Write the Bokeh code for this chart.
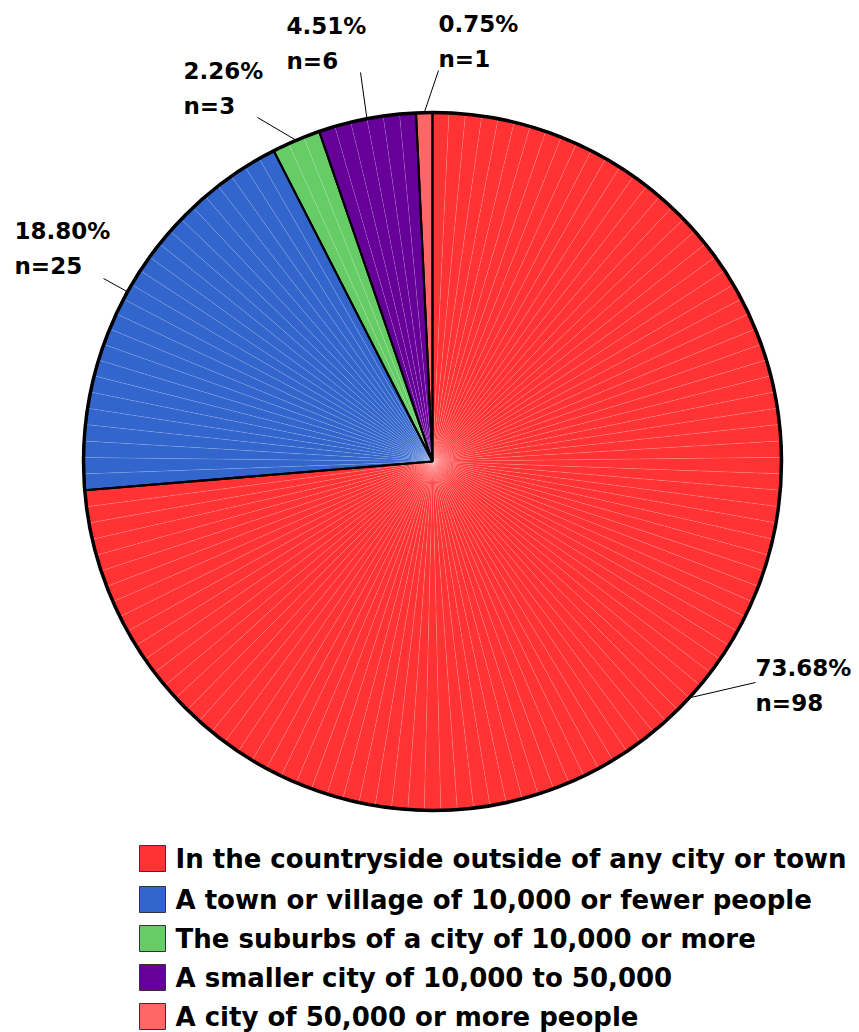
import numpy as np
from bokeh.plotting import figure
from bokeh.models import Range1d
from bokeh.core.properties import value
from bokeh.embed import file_html
from bokeh.resources import INLINE

# ---- data ----
categories = [
    "In the countryside outside of any city or town",
    "A town or village of 10,000 or fewer people",
    "The suburbs of a city of 10,000 or more",
    "A smaller city of 10,000 to 50,000",
    "A city of 50,000 or more people",
]
counts = [98, 25, 3, 6, 1]
colors = ["#FF3333", "#3366CC", "#66CC66", "#660099", "#FF6666"]

# ---- layout (screen pixels) ----
W, H = 859, 1032
CX, CY, R = 432, 461, 349
TEXT_DY = -10
label_left = [755, 14, 183, 286, 438]
label_base = [677, 240, 80, 35, 33]
leader_end = [(755, 682), (103, 278), (257, 117), (360, 72), (438, 70)]
LINE_GAP = 35


def sy(v):
    return H - v


p = figure(width=W, height=H, x_range=Range1d(0, W), y_range=Range1d(0, H),
           output_backend="svg", toolbar_location=None,
           x_axis_location=None, y_axis_location=None, min_border=0)
p.grid.visible = False
p.outline_line_color = None
p.background_fill_color = "white"
p.border_fill_color = "white"

total = sum(counts)
fr = np.array(counts) / total
cum_end = np.cumsum(fr)
cum_start = cum_end - fr

# per-unit wedges
us, ue, uc = [], [], []
u = 0
for c, col in zip(counts, colors):
    for k in range(c):
        s = u / total
        e = (u + 1) / total
        us.append(np.pi / 2 - 2 * np.pi * e)
        ue.append(np.pi / 2 - 2 * np.pi * s)
        uc.append(col)
        u += 1
p.wedge(x=CX, y=sy(CY), radius=R, start_angle=us, end_angle=ue,
        fill_color=uc, line_color="white", line_alpha=0.2, line_width=0.5)

# slice outlines
sa = np.pi / 2 - 2 * np.pi * cum_end
ea = np.pi / 2 - 2 * np.pi * cum_start
p.wedge(x=CX, y=sy(CY), radius=R, start_angle=sa, end_angle=ea,
        fill_color=None, line_color="black", line_width=2)
p.circle(x=[CX], y=[sy(CY)], radius=R, fill_color=None, line_color="black", line_width=3.5)

# leader lines & labels
mid = np.pi / 2 - 2 * np.pi * (cum_start + fr / 2)
xs, ys = [], []
for m, (ex, ey) in zip(mid, leader_end):
    xs.append([CX + R * np.cos(m), ex])
    ys.append([sy(CY) + R * np.sin(m), sy(ey)])
p.multi_line(xs=xs, ys=ys, line_color="black", line_width=1)

pct = ["%.2f%%" % (f * 100) for f in fr]
ntext = ["n=%d" % c for c in counts]
font = value("DejaVu Sans")
p.text(x=label_left, y=[sy(b + TEXT_DY) for b in label_base], text=pct, text_font=font,
       text_font_style="bold", text_font_size="23px", text_color="black",
       text_align="left", text_baseline="alphabetic")
p.text(x=label_left, y=[sy(b + LINE_GAP + TEXT_DY) for b in label_base], text=ntext,
       text_font=font, text_font_style="bold", text_font_size="23px", text_color="black",
       text_align="left", text_baseline="alphabetic")

# legend
rows = [858, 899, 938, 977, 1016]
p.rect(x=[152] * len(rows), y=[sy(r) for r in rows], width=26, height=26,
       fill_color=colors, line_color="#333333", line_width=1)
p.text(x=[175] * len(rows), y=[sy(r + 10 + TEXT_DY) for r in rows], text=categories,
       text_font=font, text_font_style="bold", text_font_size="26px", text_color="black",
       text_align="left", text_baseline="alphabetic")

open("out.html", "w").write(file_html(p, INLINE))
